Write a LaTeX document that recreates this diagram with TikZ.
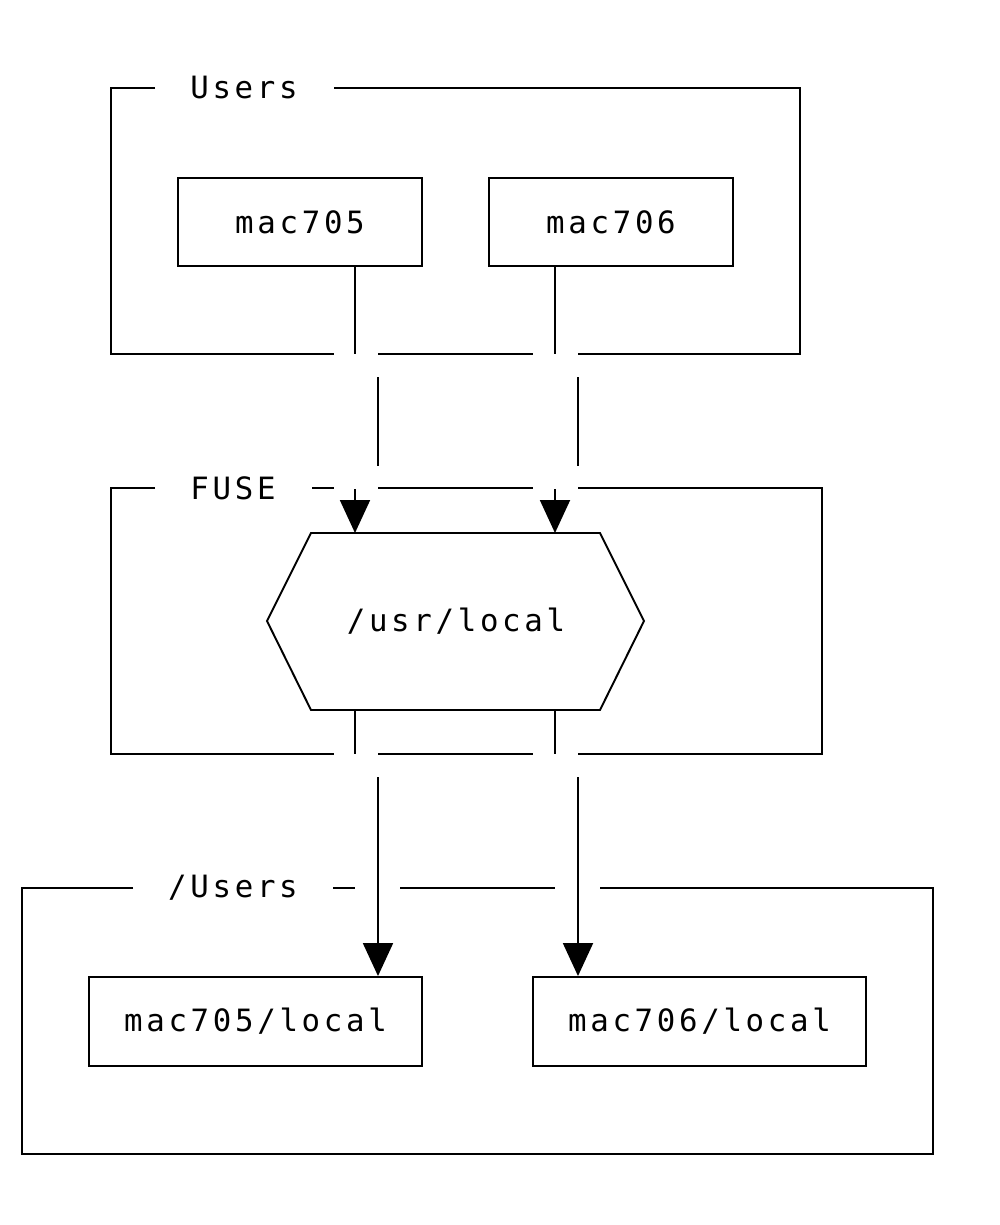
\documentclass[tikz,border=0pt]{standalone}
\usepackage{fontspec}
\usetikzlibrary{arrows.meta}
\newfontfamily\bobfont{DejaVu Sans Mono}[LetterSpace=12]

\begin{document}
\begin{tikzpicture}[
  x=0.02cm, y=-0.02cm,
  line width=1.1pt,
  host/.style={rectangle, draw, line width=1.1pt, minimum width=4.88cm,
               minimum height=1.76cm, inner sep=0pt},
  dir/.style={rectangle, draw, line width=1.1pt, minimum width=6.66cm,
              minimum height=1.78cm, inner sep=0pt},
  lbl/.style={inner sep=0pt},
  arr/.style={-{Triangle[length=6.6mm,width=6mm]}, line width=1.1pt}
]
  \useasboundingbox (0,0) rectangle (1000,1225);
  \tikzset{every node/.append style={font=\bobfont\fontsize{17.5}{20}\selectfont}}

  % Users
  \node[lbl] (tusers) at (244,88) {Users};
  \draw (155,88) -- (111,88) -- (111,354) -- (334,354);
  \draw (334,88) -- (800,88) -- (800,354) -- (578,354);
  \draw (378,354) -- (533,354);
  \node[host] (m705) at (300,222) {mac705};
  \node[host] (m706) at (611,222) {mac706};

  % FUSE
  \node[lbl] (tfuse) at (233,488) {FUSE};
  \draw (155,488) -- (111,488) -- (111,754) -- (334,754);
  \draw (312,488) -- (334,488);
  \draw (378,488) -- (533,488);
  \draw (578,488) -- (822,488) -- (822,754) -- (578,754);
  \draw (378,754) -- (533,754);
  \node[lbl] (usr) at (456,621) {/usr/local};
  \draw (311,533) coordinate (hx1) -- (600,533) coordinate (hx2)
    -- (644,621) -- (600,710) coordinate (hx3) -- (311,710) coordinate (hx4)
    -- (267,621) -- cycle;

  % /Users
  \node[lbl] (tdir) at (233,888) {/Users};
  \draw (133,888) -- (22,888) -- (22,1154) -- (933,1154) -- (933,888) -- (600,888);
  \draw (333,888) -- (355,888);
  \draw (400,888) -- (555,888);
  \node[dir] (l705) at (255.5,1021.5) {mac705/local};
  \node[dir] (l706) at (699.5,1021.5) {mac706/local};

  % Verbindungen
  \foreach \n/\a/\b in {5/355/378, 6/555/578} {
    \coordinate (u\n) at (\a,354);
    \coordinate (v\n) at (\b,377);
    \coordinate (w\n) at (\b,466);
    \coordinate (f\n) at (\a,489);
    \coordinate (h\n) at (\a,754);
    \coordinate (g\n) at (\b,777);
    \draw (m70\n.south -| u\n) -- (u\n);
    \draw (v\n) -- (w\n);
    \draw[arr] (f\n) -- (hx1 -| f\n);
    \draw (hx4 -| h\n) -- (h\n);
    \draw[arr] (g\n) -- (l70\n.north -| g\n);
  }
\end{tikzpicture}
\end{document}
